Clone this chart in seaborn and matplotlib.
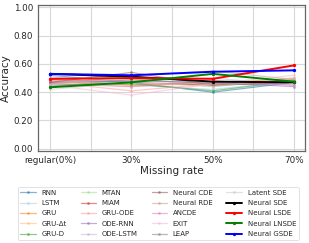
import matplotlib.pyplot as plt
import seaborn as sns
import pandas as pd

# x positions: 0, 2, 4, 6 -> regular(0%), 30%, 50%, 70%
x_pos = [0, 2, 4, 6]
tick_labels = ['regular(0%)', '', '30%', '', '50%', '', '70%']

models = ['RNN', 'LSTM', 'GRU', 'GRU-Δt', 'GRU-D',
          'MTAN', 'MIAM', 'GRU-ODE', 'ODE-RNN', 'ODE-LSTM',
          'Neural CDE', 'Neural RDE', 'ANCDE', 'EXIT', 'LEAP',
          'Latent SDE', 'Neural SDE', 'Neural LSDE', 'Neural LNSDE', 'Neural GSDE']

acc = {
    'RNN':          [0.52, 0.47, 0.40, 0.47],
    'LSTM':         [0.51, 0.45, 0.42, 0.48],
    'GRU':          [0.48, 0.45, 0.46, 0.50],
    'GRU-Δt':       [0.47, 0.44, 0.47, 0.49],
    'GRU-D':        [0.45, 0.46, 0.41, 0.48],
    'MTAN':         [0.46, 0.50, 0.44, 0.49],
    'MIAM':         [0.49, 0.47, 0.45, 0.47],
    'GRU-ODE':      [0.47, 0.41, 0.46, 0.49],
    'ODE-RNN':      [0.47, 0.48, 0.47, 0.44],
    'ODE-LSTM':     [0.48, 0.48, 0.50, 0.45],
    'Neural CDE':   [0.47, 0.54, 0.45, 0.47],
    'Neural RDE':   [0.46, 0.52, 0.55, 0.49],
    'ANCDE':        [0.46, 0.44, 0.48, 0.45],
    'EXIT':         [0.45, 0.38, 0.46, 0.52],
    'LEAP':         [0.44, 0.49, 0.46, 0.48],
    'Latent SDE':   [0.42, 0.47, 0.44, 0.50],
    'Neural SDE':   [0.53, 0.51, 0.475, 0.47],
    'Neural LSDE':  [0.495, 0.50, 0.495, 0.59],
    'Neural LNSDE': [0.435, 0.47, 0.53, 0.475],
    'Neural GSDE':  [0.53, 0.52, 0.545, 0.555],
}

rows = []
for m in models:
    for xp, v in zip(x_pos, acc[m]):
        rows.append({'model': m, 'x': xp, 'acc': v})
df = pd.DataFrame(rows)

tab20 = sns.color_palette('tab20', 16)
palette = dict(zip(models[:16], tab20))
palette.update({'Neural SDE': 'black', 'Neural LSDE': 'red',
                'Neural LNSDE': 'green', 'Neural GSDE': 'blue'})

sns.set_style('whitegrid')
plt.rcParams['font.family'] = ['DejaVu Sans']

fig = plt.figure(figsize=(3.09, 2.43), dpi=100)
ax = fig.add_axes([0.123, 0.378, 0.864, 0.60])

for m in models:
    sub = df[df['model'] == m]
    ours = m in ('Neural SDE', 'Neural LSDE', 'Neural LNSDE', 'Neural GSDE')
    sns.lineplot(data=sub, x='x', y='acc', ax=ax, color=palette[m],
                 marker='o', markersize=2.4 if ours else 2.0,
                 markeredgewidth=0,
                 linewidth=1.4 if ours else 0.9,
                 alpha=1.0 if ours else 0.55, label=m,
                 zorder=3 if ours else 2)

ax.set_xlim(-0.3, 6.27)
ax.set_ylim(-0.017, 1.015)
ax.set_xticks(range(7))
ax.set_xticklabels(tick_labels, fontsize=6.3)
ax.set_yticks([0, 0.2, 0.4, 0.6, 0.8, 1.0])
ax.set_yticklabels(['0.00', '0.20', '0.40', '0.60', '0.80', '1.00'], fontsize=6.3)
ax.tick_params(axis='both', length=2, width=0.6, pad=1.5, color='#555555')
ax.set_xlabel('Missing rate', fontsize=7.5, labelpad=1)
ax.set_ylabel('Accuracy', fontsize=7.5, labelpad=2)
ax.grid(True, color='#d8d8d8', linewidth=0.8)
for spine in ax.spines.values():
    spine.set_color('#666666')
    spine.set_linewidth(0.9)

handles, labels = ax.get_legend_handles_labels()
ax.get_legend().remove()
leg = fig.legend(handles, labels, loc='upper center', bbox_to_anchor=(0.512, 0.243),
                 ncol=4, fontsize=5.0, frameon=True, handlelength=2.2,
                 handletextpad=0.85, columnspacing=2.0, labelspacing=0.62,
                 borderpad=0.35)
leg.get_frame().set_linewidth(0.5)
leg.get_frame().set_edgecolor('#cccccc')

plt.savefig('out.png', dpi=100)
plt.close()
